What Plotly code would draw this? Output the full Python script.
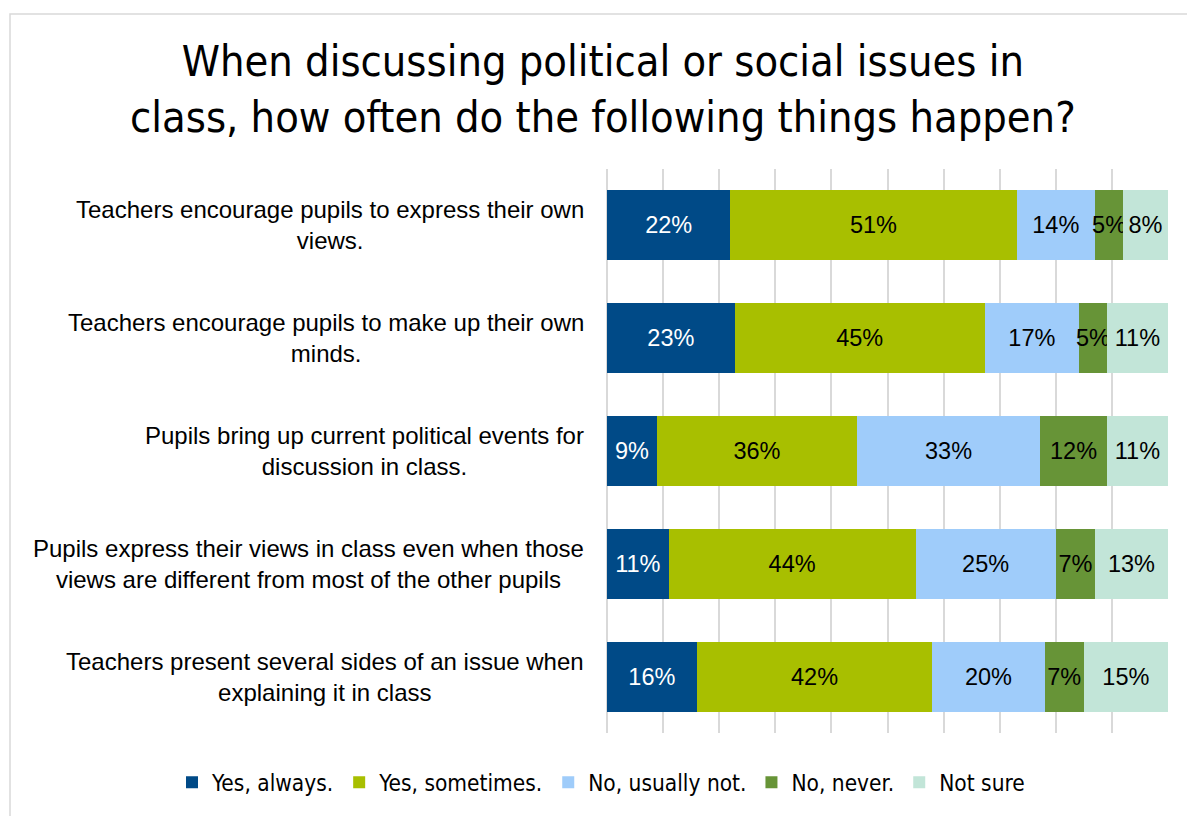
import plotly.graph_objects as go

# Survey statements (top to bottom)
statements = [
    "Teachers encourage pupils to express their own<br>views.",
    "Teachers encourage pupils to make up their own<br>minds.",
    "Pupils bring up current political events for<br>discussion in class.",
    "Pupils express their views in class even when those<br>views are different from most of the other pupils",
    "Teachers present several sides of an issue when<br>explaining it in class",
]
categories = ["S1", "S2", "S3", "S4", "S5"]

# Response shares (%)
yes_always = [22, 23, 9, 11, 16]
yes_sometimes = [51, 45, 36, 44, 42]
no_usually_not = [14, 17, 33, 25, 20]
no_never = [5, 5, 12, 7, 7]
not_sure = [8, 11, 11, 13, 15]

series = [
    ("Yes, always.", yes_always, "#004A87", "#FFFFFF"),
    ("Yes, sometimes.", yes_sometimes, "#A8BF00", "#000000"),
    ("No, usually not.", no_usually_not, "#9FCCFA", "#000000"),
    ("No, never.", no_never, "#679437", "#000000"),
    ("Not sure", not_sure, "#C2E5D8", "#000000"),
]

W, H = 1187, 816
L, R, T, B = 607, 19, 169, 79
pw, ph = W - L - R, H - T - B

ARIAL = "Liberation Sans, Arial, sans-serif"
COND = "DejaVu Sans Condensed, DejaVu Sans, sans-serif"

fig = go.Figure()
for name, vals, color, tcolor in series:
    fig.add_trace(go.Bar(
        y=categories, x=vals, name=name, orientation="h",
        marker=dict(color=color, line=dict(width=0)),
        text=[f"{v}%" for v in vals],
        textposition="inside", insidetextanchor="middle",
        constraintext="none", textangle=0,
        textfont=dict(family=ARIAL, size=23.5, color=tcolor),
        hoverinfo="skip",
    ))

# Left-hand statement labels, centred lines anchored to the right
for cat, text in zip(categories, statements):
    fig.add_annotation(
        x=(586 - L) / pw, xref="paper", y=cat, yref="y",
        text=text, showarrow=False, xanchor="right", yanchor="middle",
        align="center",
        font=dict(family=ARIAL, size=24, color="#000000"),
    )

# Chart title
fig.add_annotation(
    x=(603 - L) / pw, xref="paper", y=(H - B - 88) / ph, yref="paper",
    text="When discussing political or social issues in<br>class, how often do the following things happen?",
    showarrow=False, xanchor="center", yanchor="middle", align="center",
    font=dict(family=COND, size=43, color="#000000"),
)

# Chart frame
fig.add_shape(
    type="rect", xref="paper", yref="paper",
    x0=(10 - L) / pw, x1=(1210 - L) / pw,
    y0=(H - B - 840) / ph, y1=(H - B - 13) / ph,
    line=dict(color="#D9D9D9", width=1.5), fillcolor="rgba(0,0,0,0)", layer="below",
)

fig.update_layout(
    width=W, height=H,
    margin=dict(l=L, r=R, t=T, b=B, pad=0),
    barmode="stack", barnorm="percent", bargap=0.38,
    paper_bgcolor="white", plot_bgcolor="white",
    xaxis=dict(
        range=[0, 100], dtick=10, showticklabels=False,
        showgrid=True, gridcolor="#D9D9D9", gridwidth=2,
        zeroline=True, zerolinecolor="#D9D9D9", zerolinewidth=2,
        showline=False, fixedrange=True,
    ),
    yaxis=dict(
        autorange="reversed", showticklabels=False, showgrid=False,
        zeroline=False, showline=False, fixedrange=True,
    ),
    legend=dict(
        orientation="h", x=(172 - L) / pw, xanchor="left",
        y=(H - B - 787) / ph, yanchor="middle",
        font=dict(family=COND, size=22.5, color="#000000"),
        itemwidth=30, traceorder="normal", bgcolor="rgba(0,0,0,0)",
    ),
    showlegend=True,
)

fig.write_html("out.html")
